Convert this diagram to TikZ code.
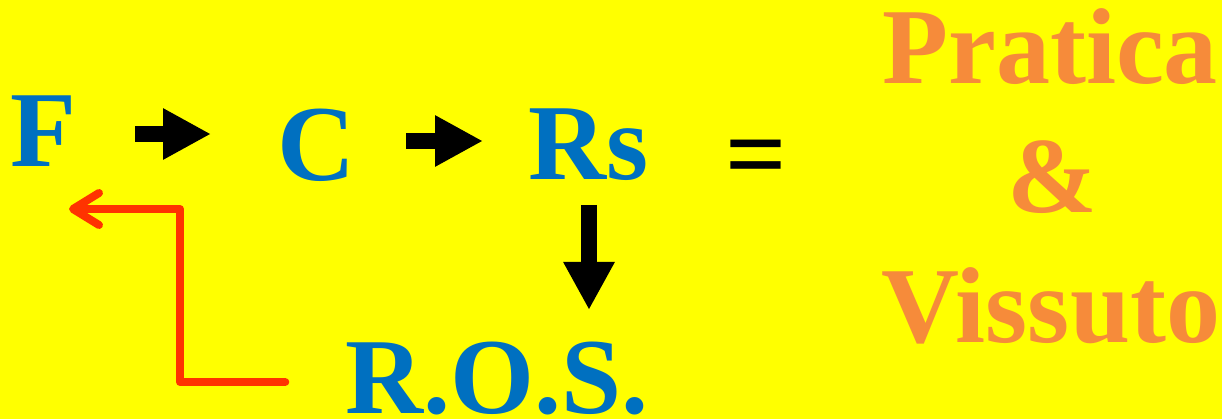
\documentclass[tikz,border=0pt]{standalone}
\usepackage{fontspec}
\setmainfont{Liberation Serif}
\usepackage{tikz}
\usetikzlibrary{arrows.meta,calc}
\definecolor{sfondoGiallo}{HTML}{FFFF00}
\definecolor{bluTesto}{HTML}{0070C0}
\definecolor{arancio}{HTML}{F68B3A}
\definecolor{rossoFreccia}{HTML}{FF3300}

\begin{document}
\begin{tikzpicture}[x=1pt,y=-1pt,
  testo/.style={inner sep=0pt,anchor=base,text=bluTesto,
                font=\fontsize{108}{129}\selectfont\bfseries},
  lato/.style={testo,text=arancio},
  blocco/.style={-{Triangle[length=48pt,width=48pt]},line width=16pt,black},
  ritorno/.style={-{Straight Barb[length=26pt,width=32pt,round]},line width=8pt,
                  rossoFreccia,line cap=round,line join=round}]
\fill[sfondoGiallo] (0,0) rectangle (1222,419);
\useasboundingbox (0,0) rectangle (1222,419);
\node[testo] (F) at (43,167) {F};
\node[testo] (C) at (316,181) {C};
\node[testo] (Rs) at (589,180) {Rs};
\node[testo,text=black] (uguale) at (756,191) {=};
\node[testo] (ROS) at (497,413) {R.O.S.};
\node[lato] (pratica) at (1050,84) {Pratica};
\node[lato] (e) at (1052,213) {\&};
\node[lato] (vissuto) at (1051,342) {Vissuto};
\draw[blocco] ([shift={(92pt,33pt)}]F.base) -- ([shift={(-105pt,47pt)}]C.base);
\draw[blocco] ([shift={(90pt,40pt)}]C.base) -- ([shift={(-106pt,39pt)}]Rs.base);
\draw[blocco] ([yshift=-25pt]Rs.base) -- ($(Rs.base |- ROS.base)+(0pt,103pt)$);
\coordinate (punta) at ([shift={(26pt,-42pt)}]F.base);
\coordinate (partenza) at ([shift={(-60pt,31pt)}]ROS.base west);
\draw[ritorno] (partenza) -| ([xshift=111pt]punta) -- (punta);
\end{tikzpicture}
\end{document}
